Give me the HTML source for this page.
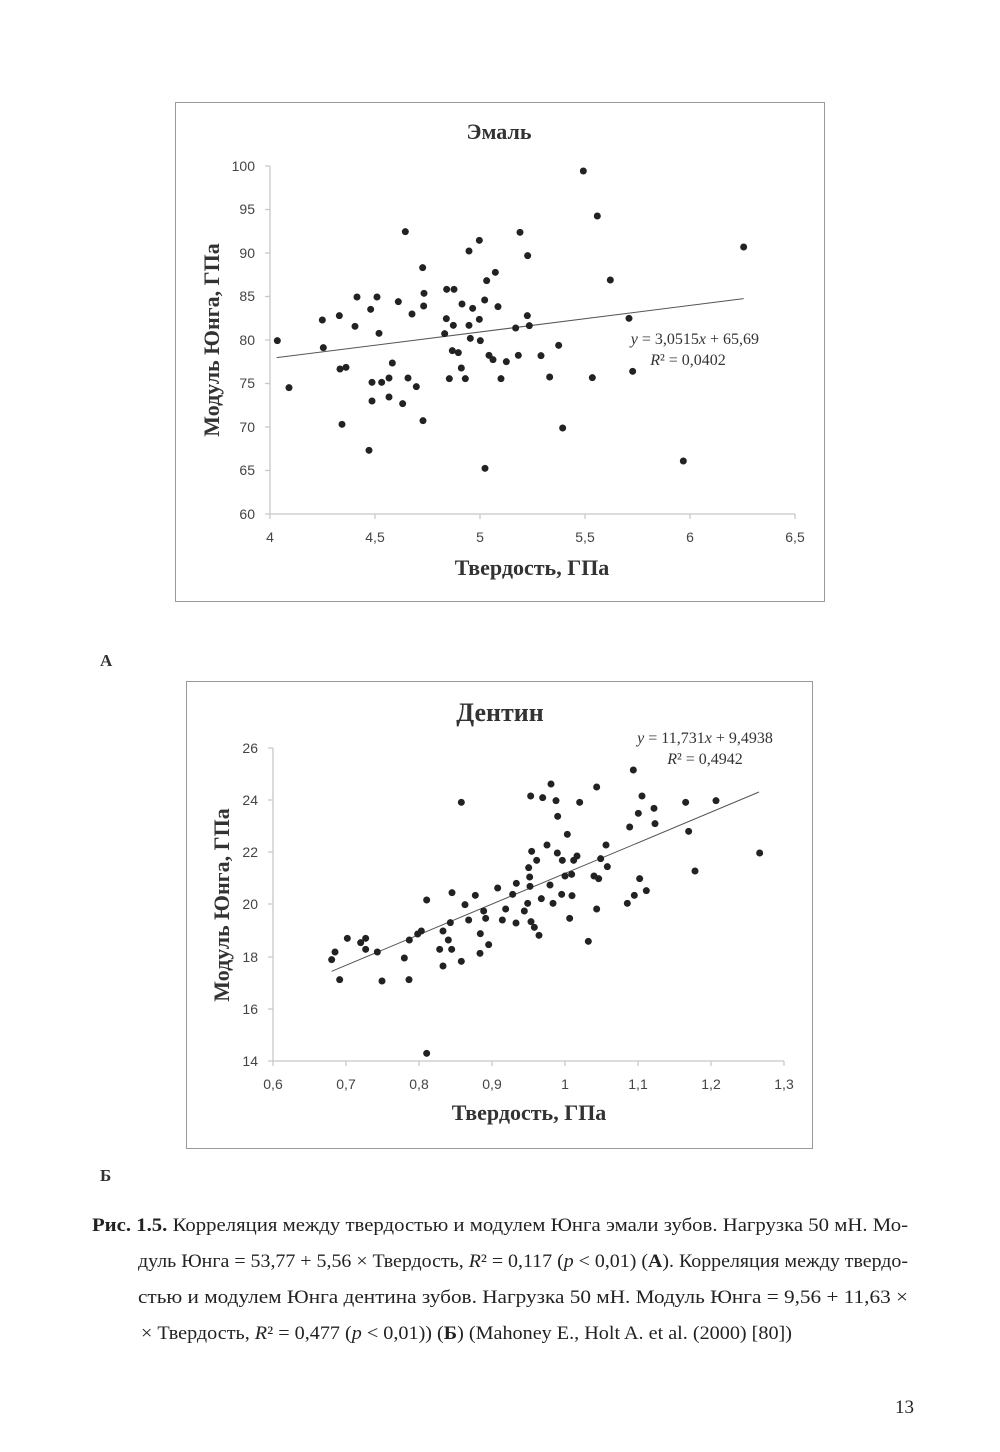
<!DOCTYPE html>
<html><head><meta charset="utf-8"><style>
html,body{margin:0;padding:0;background:#fff;}
svg{display:block;}
.tk{font-family:"Liberation Sans",sans-serif;font-size:14px;fill:#444;}
.ttl{font-family:"Liberation Serif",serif;font-weight:bold;fill:#333;}
.cap{font-family:"Liberation Serif",serif;font-size:19px;fill:#222;}
.eq{font-family:"Liberation Serif",serif;font-size:16px;fill:#333;}
</style></head><body>
<svg width="1000" height="1452" xmlns="http://www.w3.org/2000/svg">
<rect width="1000" height="1452" fill="#fff"/>
<!-- Chart A -->
<rect x="175.5" y="102.5" width="649" height="499" fill="none" stroke="#999" stroke-width="1"/>
<text class="ttl" x="499" y="139" font-size="22" text-anchor="middle">Эмаль</text>
<g stroke="#c8c8c8" stroke-width="1.3" fill="none">
<line x1="270" y1="166" x2="270" y2="514"/>
<line x1="270" y1="514" x2="795" y2="514"/>
<line x1="265" y1="166" x2="270" y2="166"/><line x1="265" y1="209.5" x2="270" y2="209.5"/><line x1="265" y1="253" x2="270" y2="253"/><line x1="265" y1="296.5" x2="270" y2="296.5"/><line x1="265" y1="340" x2="270" y2="340"/><line x1="265" y1="383.5" x2="270" y2="383.5"/><line x1="265" y1="427" x2="270" y2="427"/><line x1="265" y1="470.5" x2="270" y2="470.5"/><line x1="265" y1="514" x2="270" y2="514"/>
<line x1="270" y1="514" x2="270" y2="519"/><line x1="375" y1="514" x2="375" y2="519"/><line x1="480" y1="514" x2="480" y2="519"/><line x1="585" y1="514" x2="585" y2="519"/><line x1="690" y1="514" x2="690" y2="519"/><line x1="795" y1="514" x2="795" y2="519"/>
</g>
<g class="tk" text-anchor="end">
<text x="255" y="171">100</text><text x="255" y="214">95</text><text x="255" y="258">90</text><text x="255" y="301">85</text><text x="255" y="345">80</text><text x="255" y="388">75</text><text x="255" y="432">70</text><text x="255" y="475">65</text><text x="255" y="519">60</text>
</g>
<g class="tk" text-anchor="middle">
<text x="270" y="542">4</text><text x="375" y="542">4,5</text><text x="480" y="542">5</text><text x="585" y="542">5,5</text><text x="690" y="542">6</text><text x="795" y="542">6,5</text>
</g>
<text class="ttl" font-size="22" text-anchor="middle" transform="translate(219,340) rotate(-90)">Модуль Юнга, ГПа</text>
<text class="ttl" font-size="22" x="532" y="575" text-anchor="middle">Твердость, ГПа</text>
<g transform="translate(260,160) scale(0.33333)">
<line x1="50" y1="593" x2="1451" y2="416" stroke="#555" stroke-width="3"/>
<g fill="#222">
<circle cx="52" cy="542" r="10.5"/><circle cx="87" cy="683" r="10.5"/><circle cx="187" cy="480" r="10.5"/><circle cx="190" cy="563" r="10.5"/><circle cx="238" cy="467" r="10.5"/><circle cx="240" cy="627" r="10.5"/><circle cx="258" cy="622" r="10.5"/><circle cx="246" cy="793" r="10.5"/><circle cx="285" cy="499" r="10.5"/><circle cx="291" cy="411" r="10.5"/><circle cx="332" cy="448" r="10.5"/><circle cx="351" cy="411" r="10.5"/><circle cx="357" cy="520" r="10.5"/><circle cx="336" cy="667" r="10.5"/><circle cx="365" cy="667" r="10.5"/><circle cx="387" cy="654" r="10.5"/><circle cx="397" cy="609" r="10.5"/><circle cx="336" cy="723" r="10.5"/><circle cx="387" cy="711" r="10.5"/><circle cx="327" cy="871" r="10.5"/><circle cx="415" cy="425" r="10.5"/><circle cx="436" cy="215" r="10.5"/><circle cx="428" cy="731" r="10.5"/><circle cx="444" cy="654" r="10.5"/><circle cx="456" cy="462" r="10.5"/><circle cx="469" cy="680" r="10.5"/><circle cx="488" cy="323" r="10.5"/><circle cx="492" cy="400" r="10.5"/><circle cx="491" cy="438" r="10.5"/><circle cx="489" cy="782" r="10.5"/><circle cx="560" cy="388" r="10.5"/><circle cx="582" cy="388" r="10.5"/><circle cx="559" cy="476" r="10.5"/><circle cx="580" cy="496" r="10.5"/><circle cx="554" cy="521" r="10.5"/><circle cx="577" cy="572" r="10.5"/><circle cx="595" cy="578" r="10.5"/><circle cx="604" cy="624" r="10.5"/><circle cx="568" cy="656" r="10.5"/><circle cx="616" cy="656" r="10.5"/><circle cx="606" cy="432" r="10.5"/><circle cx="627" cy="273" r="10.5"/><circle cx="638" cy="445" r="10.5"/><circle cx="627" cy="496" r="10.5"/><circle cx="631" cy="535" r="10.5"/><circle cx="658" cy="241" r="10.5"/><circle cx="658" cy="478" r="10.5"/><circle cx="661" cy="542" r="10.5"/><circle cx="674" cy="420" r="10.5"/><circle cx="680" cy="362" r="10.5"/><circle cx="706" cy="337" r="10.5"/><circle cx="714" cy="440" r="10.5"/><circle cx="687" cy="586" r="10.5"/><circle cx="699" cy="599" r="10.5"/><circle cx="739" cy="605" r="10.5"/><circle cx="723" cy="656" r="10.5"/><circle cx="675" cy="925" r="10.5"/><circle cx="767" cy="504" r="10.5"/><circle cx="780" cy="217" r="10.5"/><circle cx="803" cy="287" r="10.5"/><circle cx="802" cy="467" r="10.5"/><circle cx="808" cy="497" r="10.5"/><circle cx="775" cy="586" r="10.5"/><circle cx="843" cy="587" r="10.5"/><circle cx="869" cy="651" r="10.5"/><circle cx="896" cy="556" r="10.5"/><circle cx="908" cy="804" r="10.5"/><circle cx="970" cy="33" r="10.5"/><circle cx="997" cy="653" r="10.5"/><circle cx="1012" cy="168" r="10.5"/><circle cx="1051" cy="360" r="10.5"/><circle cx="1107" cy="475" r="10.5"/><circle cx="1118" cy="634" r="10.5"/><circle cx="1270" cy="903" r="10.5"/><circle cx="1451" cy="261" r="10.5"/>
</g></g>
<text class="eq" x="759" y="344" text-anchor="end"><tspan font-style="italic">y</tspan> = 3,0515<tspan font-style="italic">x</tspan> + 65,69</text>
<text class="eq" x="688" y="365" text-anchor="middle"><tspan font-style="italic">R</tspan>² = 0,0402</text>

<text class="ttl" x="100" y="666" font-size="17">А</text>

<!-- Chart B -->
<rect x="186.5" y="681.5" width="626" height="467" fill="none" stroke="#999" stroke-width="1"/>
<text class="ttl" x="500" y="721" font-size="26" text-anchor="middle">Дентин</text>
<g stroke="#c8c8c8" stroke-width="1.3" fill="none">
<line x1="273" y1="748" x2="273" y2="1061"/>
<line x1="273" y1="1061" x2="784" y2="1061"/>
<line x1="268" y1="748" x2="273" y2="748"/><line x1="268" y1="800" x2="273" y2="800"/><line x1="268" y1="852" x2="273" y2="852"/><line x1="268" y1="904" x2="273" y2="904"/><line x1="268" y1="957" x2="273" y2="957"/><line x1="268" y1="1009" x2="273" y2="1009"/><line x1="268" y1="1061" x2="273" y2="1061"/>
<line x1="273" y1="1061" x2="273" y2="1066"/><line x1="346" y1="1061" x2="346" y2="1066"/><line x1="419" y1="1061" x2="419" y2="1066"/><line x1="492" y1="1061" x2="492" y2="1066"/><line x1="565" y1="1061" x2="565" y2="1066"/><line x1="638" y1="1061" x2="638" y2="1066"/><line x1="711" y1="1061" x2="711" y2="1066"/><line x1="784" y1="1061" x2="784" y2="1066"/>
</g>
<g class="tk" text-anchor="end">
<text x="258" y="753">26</text><text x="258" y="805">24</text><text x="258" y="857">22</text><text x="258" y="909">20</text><text x="258" y="962">18</text><text x="258" y="1014">16</text><text x="258" y="1066">14</text>
</g>
<g class="tk" text-anchor="middle">
<text x="273" y="1089">0,6</text><text x="346" y="1089">0,7</text><text x="419" y="1089">0,8</text><text x="492" y="1089">0,9</text><text x="565" y="1089">1</text><text x="638" y="1089">1,1</text><text x="711" y="1089">1,2</text><text x="784" y="1089">1,3</text>
</g>
<text class="ttl" font-size="22" text-anchor="middle" transform="translate(229,905) rotate(-90)">Модуль Юнга, ГПа</text>
<text class="ttl" font-size="22" x="529" y="1120" text-anchor="middle">Твердость, ГПа</text>
<g transform="translate(320,770) scale(0.33333)">
<line x1="35" y1="604" x2="1317" y2="66" stroke="#555" stroke-width="3"/>
<g fill="#222">
<circle cx="35" cy="569" r="10.5"/><circle cx="45" cy="546" r="10.5"/><circle cx="59" cy="629" r="10.5"/><circle cx="82" cy="505" r="10.5"/><circle cx="122" cy="518" r="10.5"/><circle cx="137" cy="505" r="10.5"/><circle cx="137" cy="538" r="10.5"/><circle cx="172" cy="546" r="10.5"/><circle cx="186" cy="633" r="10.5"/><circle cx="253" cy="564" r="10.5"/><circle cx="267" cy="629" r="10.5"/><circle cx="268" cy="510" r="10.5"/><circle cx="293" cy="492" r="10.5"/><circle cx="304" cy="483" r="10.5"/><circle cx="320" cy="390" r="10.5"/><circle cx="320" cy="850" r="10.5"/><circle cx="359" cy="538" r="10.5"/><circle cx="369" cy="483" r="10.5"/><circle cx="369" cy="588" r="10.5"/><circle cx="385" cy="510" r="10.5"/><circle cx="391" cy="458" r="10.5"/><circle cx="395" cy="538" r="10.5"/><circle cx="396" cy="368" r="10.5"/><circle cx="424" cy="97" r="10.5"/><circle cx="424" cy="574" r="10.5"/><circle cx="435" cy="404" r="10.5"/><circle cx="446" cy="450" r="10.5"/><circle cx="466" cy="376" r="10.5"/><circle cx="481" cy="491" r="10.5"/><circle cx="480" cy="550" r="10.5"/><circle cx="491" cy="423" r="10.5"/><circle cx="497" cy="445" r="10.5"/><circle cx="506" cy="524" r="10.5"/><circle cx="533" cy="354" r="10.5"/><circle cx="547" cy="450" r="10.5"/><circle cx="557" cy="417" r="10.5"/><circle cx="578" cy="373" r="10.5"/><circle cx="588" cy="459" r="10.5"/><circle cx="589" cy="340" r="10.5"/><circle cx="613" cy="423" r="10.5"/><circle cx="623" cy="400" r="10.5"/><circle cx="626" cy="293" r="10.5"/><circle cx="629" cy="321" r="10.5"/><circle cx="630" cy="349" r="10.5"/><circle cx="632" cy="78" r="10.5"/><circle cx="635" cy="244" r="10.5"/><circle cx="633" cy="455" r="10.5"/><circle cx="643" cy="472" r="10.5"/><circle cx="650" cy="271" r="10.5"/><circle cx="657" cy="496" r="10.5"/><circle cx="664" cy="386" r="10.5"/><circle cx="668" cy="83" r="10.5"/><circle cx="681" cy="225" r="10.5"/><circle cx="690" cy="345" r="10.5"/><circle cx="693" cy="42" r="10.5"/><circle cx="699" cy="400" r="10.5"/><circle cx="708" cy="92" r="10.5"/><circle cx="712" cy="249" r="10.5"/><circle cx="713" cy="139" r="10.5"/><circle cx="725" cy="373" r="10.5"/><circle cx="727" cy="271" r="10.5"/><circle cx="735" cy="318" r="10.5"/><circle cx="742" cy="193" r="10.5"/><circle cx="749" cy="445" r="10.5"/><circle cx="755" cy="313" r="10.5"/><circle cx="756" cy="377" r="10.5"/><circle cx="761" cy="271" r="10.5"/><circle cx="771" cy="258" r="10.5"/><circle cx="779" cy="97" r="10.5"/><circle cx="805" cy="514" r="10.5"/><circle cx="822" cy="318" r="10.5"/><circle cx="830" cy="51" r="10.5"/><circle cx="830" cy="417" r="10.5"/><circle cx="836" cy="326" r="10.5"/><circle cx="842" cy="266" r="10.5"/><circle cx="858" cy="225" r="10.5"/><circle cx="862" cy="290" r="10.5"/><circle cx="922" cy="400" r="10.5"/><circle cx="929" cy="171" r="10.5"/><circle cx="940" cy="0" r="10.5"/><circle cx="943" cy="376" r="10.5"/><circle cx="955" cy="130" r="10.5"/><circle cx="959" cy="326" r="10.5"/><circle cx="966" cy="78" r="10.5"/><circle cx="979" cy="362" r="10.5"/><circle cx="1002" cy="115" r="10.5"/><circle cx="1005" cy="161" r="10.5"/><circle cx="1097" cy="97" r="10.5"/><circle cx="1106" cy="184" r="10.5"/><circle cx="1125" cy="303" r="10.5"/><circle cx="1188" cy="92" r="10.5"/><circle cx="1319" cy="249" r="10.5"/>
</g></g>
<text class="eq" x="705" y="743" text-anchor="middle"><tspan font-style="italic">y</tspan> = 11,731<tspan font-style="italic">x</tspan> + 9,4938</text>
<text class="eq" x="705" y="764" text-anchor="middle"><tspan font-style="italic">R</tspan>² = 0,4942</text>

<text class="ttl" x="100" y="1181" font-size="17">Б</text>

<!-- Caption -->
<text class="cap" x="92" y="1231" textLength="816" lengthAdjust="spacingAndGlyphs"><tspan font-weight="bold">Рис. 1.5.</tspan> Корреляция между твердостью и модулем Юнга эмали зубов. Нагрузка 50 мН. Мо-</text>
<text class="cap" x="138" y="1267" textLength="770" lengthAdjust="spacingAndGlyphs">дуль Юнга = 53,77 + 5,56 × Твердость, <tspan font-style="italic">R</tspan>² = 0,117 (<tspan font-style="italic">p</tspan> &lt; 0,01) (<tspan font-weight="bold">А</tspan>). Корреляция между твердо-</text>
<text class="cap" x="138" y="1303" textLength="770" lengthAdjust="spacingAndGlyphs">стью  и модулем Юнга  дентина  зубов.  Нагрузка  50 мН.  Модуль Юнга = 9,56 + 11,63 ×</text>
<text class="cap" x="141" y="1339" textLength="651" lengthAdjust="spacingAndGlyphs">× Твердость, <tspan font-style="italic">R</tspan>² = 0,477 (<tspan font-style="italic">p</tspan> &lt; 0,01)) (<tspan font-weight="bold">Б</tspan>) (Mahoney E., Holt A. et al. (2000) [80])</text>

<text class="cap" x="914" y="1413" text-anchor="end">13</text>
</svg>
</body></html>
